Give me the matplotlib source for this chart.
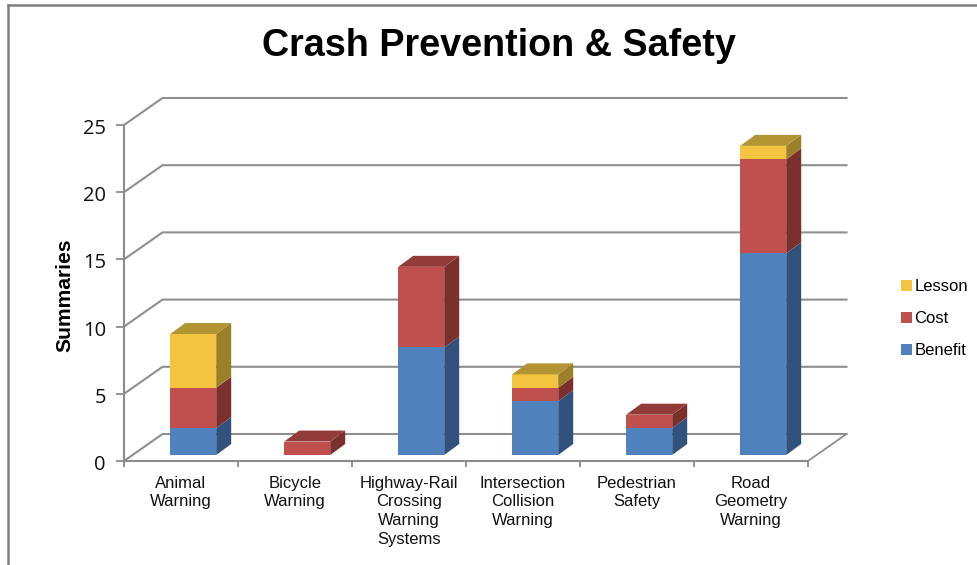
import matplotlib
matplotlib.use("Agg")
import matplotlib.pyplot as plt
from matplotlib.lines import Line2D
from matplotlib.patches import Polygon, Patch
from matplotlib.transforms import ScaledTranslation

categories = ["Animal\nWarning", "Bicycle\nWarning", "Highway-Rail\nCrossing\nWarning\nSystems",
              "Intersection\nCollision\nWarning", "Pedestrian\nSafety", "Road\nGeometry\nWarning"]
benefit = [2, 0, 8, 4, 2, 15]
cost = [3, 1, 6, 1, 1, 7]
lesson = [4, 0, 0, 1, 0, 1]
y_ticks = [0, 5, 10, 15, 20, 25]

W, H = 977, 565
L, R, T, B = 124, 808, 125, 461
fig = plt.figure(figsize=(W / 100, H / 100), dpi=100, facecolor="white")
ax = fig.add_axes([L / W, 1 - B / H, (R - L) / W, (B - T) / H])
ax.set_xlim(0, len(categories))
ax.set_ylim(0, 25)
ax.patch.set_visible(False)
for s in ("top", "right"):
    ax.spines[s].set_visible(False)
for s in ("left", "bottom"):
    ax.spines[s].set_color("#8c8c8c")
    ax.spines[s].set_linewidth(1.5)

ux = len(categories) / (R - L)   # data units per pixel
uy = 25 / (B - T)
GRID = "#8f8f8f"
back_x, back_y = 38.5 * ux, 27 * uy

# wall gridlines and floor
for v in y_ticks:
    ax.plot([0, back_x, len(categories) + back_x], [v, v + back_y, v + back_y],
            color=GRID, lw=1.5, clip_on=False, zorder=1, solid_joinstyle="miter")
ax.plot([len(categories), len(categories) + back_x], [0, back_y], color=GRID, lw=1.3, clip_on=False, zorder=1)

# bars
BAR_W = 46 * ux
OFF_X, OFF_Y = 46.2 * ux, 6 * uy  # offset of the front of a bar from the front plane
DX, DY = 15 * ux, 11 * uy         # depth of a bar
COLS = {"Benefit": ("#4F81BD", "#30527D", "#3E6696"),
        "Cost": ("#C0504D", "#7B302E", "#933B39"),
        "Lesson": ("#F2C440", "#9C8028", "#B39432")}


def box(x0, y0, y1, cols, top):
    x1 = x0 + BAR_W
    ax.add_patch(Polygon([(x0, y0), (x1, y0), (x1, y1), (x0, y1)], fc=cols[0], ec="none", clip_on=False, zorder=3))
    ax.add_patch(Polygon([(x1, y0), (x1 + DX, y0 + DY), (x1 + DX, y1 + DY), (x1, y1)], fc=cols[1], ec="none",
                         clip_on=False, zorder=3))
    if top:
        ax.add_patch(Polygon([(x0, y1), (x1, y1), (x1 + DX, y1 + DY), (x0 + DX, y1 + DY)], fc=cols[2], ec="none",
                             clip_on=False, zorder=3))


for i in range(len(categories)):
    x0 = i + OFF_X
    base = 0
    stack = [("Benefit", benefit[i]), ("Cost", cost[i]), ("Lesson", lesson[i])]
    last = max(k for k, (_, v) in enumerate(stack) if v > 0)
    for k, (name, v) in enumerate(stack):
        if v > 0:
            box(x0, base + OFF_Y, base + v + OFF_Y, COLS[name], k == last)
            base += v

# ticks
ax.set_yticks(y_ticks)
ax.set_yticklabels([str(v) for v in y_ticks], fontsize=14.5, family="Open Sans", color="#111111", va="center")
ax.tick_params(axis="y", length=6, width=1.3, color="#8c8c8c", pad=7)
shift = ScaledTranslation(0, -4 / 100, fig.dpi_scale_trans)
for lab in ax.get_yticklabels():
    lab.set_transform(lab.get_transform() + shift)
ax.set_xticks(range(len(categories) + 1))
ax.set_xticklabels([])
ax.tick_params(axis="x", which="major", length=4, width=1.3, color="#8c8c8c")
ax.set_xticks([i + 0.5 for i in range(len(categories))], minor=True)
ax.set_xticklabels(categories, minor=True, fontsize=12, family="Liberation Sans", color="#111111",
                   linespacing=1.32, va="top")
ax.tick_params(axis="x", which="minor", length=0, pad=10.5)

fig.text(65 / W, 1 - 295 / H, "Summaries", rotation=90, ha="center", va="center",
         fontsize=15.2, fontweight="bold", family="Liberation Sans")
fig.text(499 / W, 1 - 46 / H, "Crash Prevention & Safety", ha="center", va="center",
         fontsize=27.2, fontweight="bold", family="Liberation Sans")

# legend
handles = [Patch(fc=COLS[n][0], ec="none") for n in ("Lesson", "Cost", "Benefit")]
fig.legend(handles, ["Lesson", "Cost", "Benefit"], loc="upper left", bbox_to_anchor=(901 / W, 1 - 279 / H),
           frameon=False, prop={"family": "Liberation Sans", "size": 12},
           handlelength=0.65, handleheight=0.65, handletextpad=0.15, labelspacing=1.02, borderpad=0, borderaxespad=0)

# outer frame of the chart area
for xs, ys in (([8, 8], [565, 5]), ([8, 977], [5, 5])):
    fig.add_artist(Line2D([x / W for x in xs], [1 - y / H for y in ys], color="#7f7f7f", lw=1.8))

fig.savefig("out.png", dpi=100, facecolor="white")
